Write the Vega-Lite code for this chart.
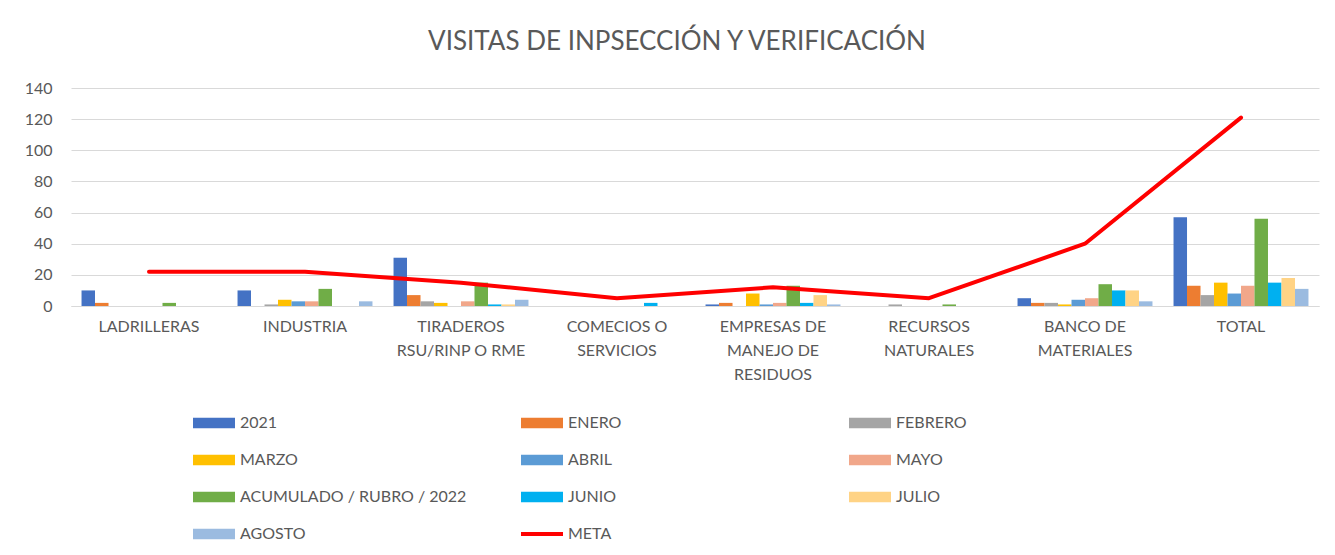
{
  "$schema": "https://vega.github.io/schema/vega-lite/v6.json",
  "autosize": {"type": "none"},
  "width": 1248,
  "height": 218,
  "padding": {"left": 71, "top": 88, "right": 16, "bottom": 249},
  "background": "white",
  "title": {"text": "VISITAS DE INPSECCIÓN Y VERIFICACIÓN", "font": "Lato", "fontSize": 26, "fontWeight": "normal", "color": "#595959", "anchor": "middle", "offset": 25, "dx": -18},
  "config": {"view": {"stroke": null}, "font": "Lato"},
  "datasets": {
    "bars": [
      {"c": "LADRILLERAS", "s": "2021", "v": 10}, {"c": "LADRILLERAS", "s": "ENERO", "v": 2}, {"c": "LADRILLERAS", "s": "FEBRERO", "v": 0}, {"c": "LADRILLERAS", "s": "MARZO", "v": 0}, {"c": "LADRILLERAS", "s": "ABRIL", "v": 0}, {"c": "LADRILLERAS", "s": "MAYO", "v": 0}, {"c": "LADRILLERAS", "s": "ACUMULADO / RUBRO / 2022", "v": 2}, {"c": "LADRILLERAS", "s": "JUNIO", "v": 0}, {"c": "LADRILLERAS", "s": "JULIO", "v": 0}, {"c": "LADRILLERAS", "s": "AGOSTO", "v": 0},
      {"c": "INDUSTRIA", "s": "2021", "v": 10}, {"c": "INDUSTRIA", "s": "ENERO", "v": 0}, {"c": "INDUSTRIA", "s": "FEBRERO", "v": 1}, {"c": "INDUSTRIA", "s": "MARZO", "v": 4}, {"c": "INDUSTRIA", "s": "ABRIL", "v": 3}, {"c": "INDUSTRIA", "s": "MAYO", "v": 3}, {"c": "INDUSTRIA", "s": "ACUMULADO / RUBRO / 2022", "v": 11}, {"c": "INDUSTRIA", "s": "JUNIO", "v": 0}, {"c": "INDUSTRIA", "s": "JULIO", "v": 0}, {"c": "INDUSTRIA", "s": "AGOSTO", "v": 3},
      {"c": "TIRADEROS RSU/RINP O RME", "s": "2021", "v": 31}, {"c": "TIRADEROS RSU/RINP O RME", "s": "ENERO", "v": 7}, {"c": "TIRADEROS RSU/RINP O RME", "s": "FEBRERO", "v": 3}, {"c": "TIRADEROS RSU/RINP O RME", "s": "MARZO", "v": 2}, {"c": "TIRADEROS RSU/RINP O RME", "s": "ABRIL", "v": 0}, {"c": "TIRADEROS RSU/RINP O RME", "s": "MAYO", "v": 3}, {"c": "TIRADEROS RSU/RINP O RME", "s": "ACUMULADO / RUBRO / 2022", "v": 15}, {"c": "TIRADEROS RSU/RINP O RME", "s": "JUNIO", "v": 1}, {"c": "TIRADEROS RSU/RINP O RME", "s": "JULIO", "v": 1}, {"c": "TIRADEROS RSU/RINP O RME", "s": "AGOSTO", "v": 4},
      {"c": "COMECIOS O SERVICIOS", "s": "2021", "v": 0}, {"c": "COMECIOS O SERVICIOS", "s": "ENERO", "v": 0}, {"c": "COMECIOS O SERVICIOS", "s": "FEBRERO", "v": 0}, {"c": "COMECIOS O SERVICIOS", "s": "MARZO", "v": 0}, {"c": "COMECIOS O SERVICIOS", "s": "ABRIL", "v": 0}, {"c": "COMECIOS O SERVICIOS", "s": "MAYO", "v": 0}, {"c": "COMECIOS O SERVICIOS", "s": "ACUMULADO / RUBRO / 2022", "v": 0}, {"c": "COMECIOS O SERVICIOS", "s": "JUNIO", "v": 2}, {"c": "COMECIOS O SERVICIOS", "s": "JULIO", "v": 0}, {"c": "COMECIOS O SERVICIOS", "s": "AGOSTO", "v": 0},
      {"c": "EMPRESAS DE MANEJO DE RESIDUOS", "s": "2021", "v": 1}, {"c": "EMPRESAS DE MANEJO DE RESIDUOS", "s": "ENERO", "v": 2}, {"c": "EMPRESAS DE MANEJO DE RESIDUOS", "s": "FEBRERO", "v": 0}, {"c": "EMPRESAS DE MANEJO DE RESIDUOS", "s": "MARZO", "v": 8}, {"c": "EMPRESAS DE MANEJO DE RESIDUOS", "s": "ABRIL", "v": 1}, {"c": "EMPRESAS DE MANEJO DE RESIDUOS", "s": "MAYO", "v": 2}, {"c": "EMPRESAS DE MANEJO DE RESIDUOS", "s": "ACUMULADO / RUBRO / 2022", "v": 13}, {"c": "EMPRESAS DE MANEJO DE RESIDUOS", "s": "JUNIO", "v": 2}, {"c": "EMPRESAS DE MANEJO DE RESIDUOS", "s": "JULIO", "v": 7}, {"c": "EMPRESAS DE MANEJO DE RESIDUOS", "s": "AGOSTO", "v": 1},
      {"c": "RECURSOS NATURALES", "s": "2021", "v": 0}, {"c": "RECURSOS NATURALES", "s": "ENERO", "v": 0}, {"c": "RECURSOS NATURALES", "s": "FEBRERO", "v": 1}, {"c": "RECURSOS NATURALES", "s": "MARZO", "v": 0}, {"c": "RECURSOS NATURALES", "s": "ABRIL", "v": 0}, {"c": "RECURSOS NATURALES", "s": "MAYO", "v": 0}, {"c": "RECURSOS NATURALES", "s": "ACUMULADO / RUBRO / 2022", "v": 1}, {"c": "RECURSOS NATURALES", "s": "JUNIO", "v": 0}, {"c": "RECURSOS NATURALES", "s": "JULIO", "v": 0}, {"c": "RECURSOS NATURALES", "s": "AGOSTO", "v": 0},
      {"c": "BANCO DE MATERIALES", "s": "2021", "v": 5}, {"c": "BANCO DE MATERIALES", "s": "ENERO", "v": 2}, {"c": "BANCO DE MATERIALES", "s": "FEBRERO", "v": 2}, {"c": "BANCO DE MATERIALES", "s": "MARZO", "v": 1}, {"c": "BANCO DE MATERIALES", "s": "ABRIL", "v": 4}, {"c": "BANCO DE MATERIALES", "s": "MAYO", "v": 5}, {"c": "BANCO DE MATERIALES", "s": "ACUMULADO / RUBRO / 2022", "v": 14}, {"c": "BANCO DE MATERIALES", "s": "JUNIO", "v": 10}, {"c": "BANCO DE MATERIALES", "s": "JULIO", "v": 10}, {"c": "BANCO DE MATERIALES", "s": "AGOSTO", "v": 3},
      {"c": "TOTAL", "s": "2021", "v": 57}, {"c": "TOTAL", "s": "ENERO", "v": 13}, {"c": "TOTAL", "s": "FEBRERO", "v": 7}, {"c": "TOTAL", "s": "MARZO", "v": 15}, {"c": "TOTAL", "s": "ABRIL", "v": 8}, {"c": "TOTAL", "s": "MAYO", "v": 13}, {"c": "TOTAL", "s": "ACUMULADO / RUBRO / 2022", "v": 56}, {"c": "TOTAL", "s": "JUNIO", "v": 15}, {"c": "TOTAL", "s": "JULIO", "v": 18}, {"c": "TOTAL", "s": "AGOSTO", "v": 11}
    ],
    "meta": [
      {"c": "LADRILLERAS", "v": 22}, {"c": "INDUSTRIA", "v": 22}, {"c": "TIRADEROS RSU/RINP O RME", "v": 15}, {"c": "COMECIOS O SERVICIOS", "v": 5}, {"c": "EMPRESAS DE MANEJO DE RESIDUOS", "v": 12}, {"c": "RECURSOS NATURALES", "v": 5}, {"c": "BANCO DE MATERIALES", "v": 40}, {"c": "TOTAL", "v": 121}
    ]
  },
  "encoding": {
    "x": {
      "field": "c", "type": "nominal", "title": null,
      "sort": ["LADRILLERAS", "INDUSTRIA", "TIRADEROS RSU/RINP O RME", "COMECIOS O SERVICIOS", "EMPRESAS DE MANEJO DE RESIDUOS", "RECURSOS NATURALES", "BANCO DE MATERIALES", "TOTAL"],
      "scale": {"paddingInner": 0.135, "paddingOuter": 0.0675},
      "axis": {
        "labelAngle": 0, "labelFont": "Lato", "labelFontSize": 16, "labelColor": "#595959", "labelPadding": 12, "labelLineHeight": 24, "labelLimit": 0,
        "ticks": false, "domain": true, "domainColor": "#D9D9D9", "domainWidth": 1,
        "labelExpr": "datum.label == 'TIRADEROS RSU/RINP O RME' ? ['TIRADEROS', 'RSU/RINP O RME'] : datum.label == 'COMECIOS O SERVICIOS' ? ['COMECIOS O', 'SERVICIOS'] : datum.label == 'EMPRESAS DE MANEJO DE RESIDUOS' ? ['EMPRESAS DE', 'MANEJO DE', 'RESIDUOS'] : datum.label == 'RECURSOS NATURALES' ? ['RECURSOS', 'NATURALES'] : datum.label == 'BANCO DE MATERIALES' ? ['BANCO DE', 'MATERIALES'] : datum.label"
      }
    },
    "y": {
      "field": "v", "type": "quantitative", "title": null,
      "scale": {"domain": [0, 140]},
      "axis": {"values": [0, 20, 40, 60, 80, 100, 120, 140], "labelOverlap": false, "labelFont": "Lato", "labelFontSize": 16, "labelColor": "#595959", "labelPadding": 19, "ticks": false, "domain": false, "grid": true, "gridColor": "#D9D9D9", "gridWidth": 1}
    }
  },
  "layer": [
    {
      "data": {"name": "bars"},
      "mark": {"type": "bar"},
      "encoding": {
        "xOffset": {"field": "s", "type": "nominal", "sort": ["2021", "ENERO", "FEBRERO", "MARZO", "ABRIL", "MAYO", "ACUMULADO / RUBRO / 2022", "JUNIO", "JULIO", "AGOSTO"], "scale": {"paddingInner": 0, "paddingOuter": 0}},
        "color": {
          "field": "s", "type": "nominal", "title": null,
          "scale": {
            "domain": ["2021", "ENERO", "FEBRERO", "MARZO", "ABRIL", "MAYO", "ACUMULADO / RUBRO / 2022", "JUNIO", "JULIO", "AGOSTO", "META"],
            "range": ["#4472C4", "#ED7D31", "#A5A5A5", "#FFC000", "#5B9BD5", "#F1A78A", "#70AD47", "#00B0F0", "#FFD385", "#9BBBE0", "#FF0000"]
          },
          "legend": {
            "orient": "none", "legendX": 122, "legendY": 314, "columns": 3, "direction": "horizontal", "gridAlign": "all",
            "columnPadding": 54, "rowPadding": 8,
            "labelFont": "Lato", "labelFontSize": 16, "labelColor": "#595959", "labelOffset": 5, "labelLimit": 0,
            "symbolSize": 1764, "symbolStrokeWidth": 0,
            "encode": {
              "symbols": {
                "update": {
                  "shape": {"signal": "datum.value === 'META' ? 'M-1,-0.1H1V0.1H-1Z' : 'M-1,-0.25H1V0.25H-1Z'"},
                  "fill": {"signal": "scale('color', datum.value)"},
                  "opacity": {"value": 1},
                  "strokeWidth": {"value": 0}
                }
              }
            }
          }
        }
      }
    },
    {
      "data": {"name": "meta"},
      "mark": {"type": "line", "strokeWidth": 4, "strokeCap": "round", "strokeJoin": "round"},
      "encoding": {
        "color": {"datum": "META"}
      }
    }
  ]
}
